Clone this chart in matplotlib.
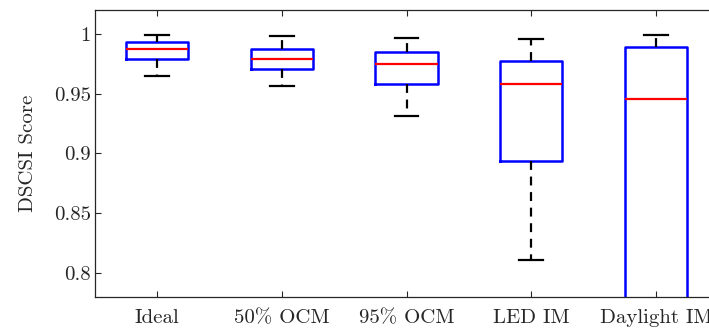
import matplotlib
matplotlib.use("Agg")
import matplotlib.pyplot as plt

plt.rcParams['font.family'] = ['cmr10', 'DejaVu Serif']
plt.rcParams['axes.formatter.use_mathtext'] = True
plt.rcParams['mathtext.fontset'] = 'cm'

categories = ["Ideal", "50% OCM", "95% OCM", "LED IM", "Daylight IM"]
whisker_low = [0.965, 0.9565, 0.9317, 0.811, 0.55]
q1 = [0.979, 0.971, 0.958, 0.8936, 0.75]
median = [0.9875, 0.979, 0.9747, 0.958, 0.9459]
q3 = [0.993, 0.9875, 0.985, 0.9774, 0.9894]
whisker_high = [0.999, 0.998, 0.9967, 0.9958, 0.9989]
yticks = [0.8, 0.85, 0.9, 0.95, 1.0]
yticklabels = ["0.8", "0.85", "0.9", "0.95", "1"]

fig = plt.figure(figsize=(7.09, 3.29), dpi=100)
ax = fig.add_axes([0.134, 0.0973, 0.879, 0.8723])

stats = []
for i, c in enumerate(categories):
    stats.append(dict(label=c, whislo=whisker_low[i], q1=q1[i], med=median[i],
                      q3=q3[i], whishi=whisker_high[i], fliers=[]))

ax.bxp(stats, positions=range(1, len(categories) + 1), widths=0.5,
       showfliers=False,
       boxprops=dict(color='#0000ff', linewidth=1.8),
       medianprops=dict(color='#ff0000', linewidth=1.6),
       whiskerprops=dict(color='black', linewidth=1.6, linestyle=(0, (4, 3))),
       capprops=dict(color='black', linewidth=1.6),
       capwidths=0.19)

ax.set_xlim(0.5, 5.5)
ax.set_ylim(0.78, 1.02)
ax.set_yticks(yticks)
ax.set_yticklabels(yticklabels)
ax.set_xticks(range(1, len(categories) + 1))
ax.set_xticklabels(categories)
ax.tick_params(direction='in', top=True, right=True, length=4, width=0.8,
               labelsize=15, colors='#262626')
ax.tick_params(axis='x', pad=9)
ax.tick_params(axis='y', pad=3)
for s in ax.spines.values():
    s.set_color('#262626')
    s.set_linewidth(0.9)
ax.set_ylabel("DSCSI Score", fontsize=15, color='#262626', labelpad=12)

fig.savefig("out.png", dpi=100)
